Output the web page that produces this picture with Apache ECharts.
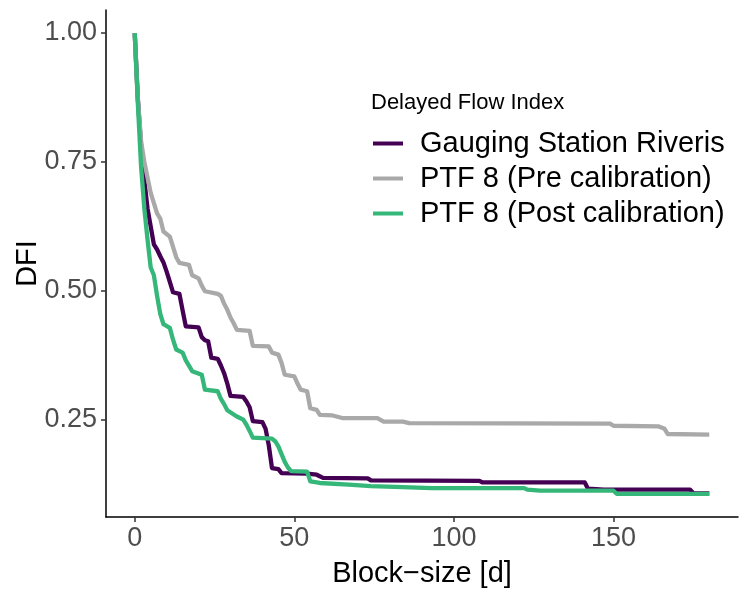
<!DOCTYPE html>
<html>
<head>
<meta charset="utf-8">
<script src="https://cdn.jsdelivr.net/npm/echarts@6/dist/echarts.min.js"></script>
<style>html,body{margin:0;padding:0;background:#fff}#c{width:750px;height:596px}</style>
</head>
<body>
<div id="c"></div>
<script>
const seriesNames = ["Gauging Station Riveris", "PTF 8 (Pre calibration)", "PTF 8 (Post calibration)"];
const seriesColors = ["#440154", "#A9A9A9", "#35B779"];
const legendTitle = "Delayed Flow Index";
const xTicks = [0, 50, 100, 150];
const yTicks = [0.25, 0.50, 0.75, 1.00];

const gauging = [[0,1.0],[1,0.87],[2,0.78],[3,0.715],[4,0.66],[5,0.625],[6,0.59],[7,0.58],[8,0.567],[9,0.555],[10,0.537],[11,0.517],[12,0.497],[14,0.494],[15,0.462],[16,0.431],[20,0.429],[21,0.41],[22,0.404],[23,0.402],[24,0.37],[26,0.368],[27,0.355],[28,0.34],[29,0.32],[30,0.296],[34,0.294],[35,0.285],[36,0.274],[37,0.247],[40,0.245],[41,0.232],[42,0.2],[43,0.156],[45,0.154],[46,0.146],[54,0.145],[57,0.143],[59,0.137],[73,0.136],[74,0.132],[108,0.131],[109,0.128],[141,0.128],[142,0.116],[147,0.114],[174,0.114],[175,0.107],[180,0.107]];

const preCal = [[0,1.0],[0.5,0.93],[1,0.87],[2,0.79],[3,0.75],[4,0.72],[5,0.69],[6,0.67],[7,0.65],[8,0.64],[9,0.615],[11,0.605],[12,0.585],[13,0.565],[14,0.554],[17,0.55],[18,0.53],[20,0.524],[21,0.51],[22,0.499],[26,0.494],[27,0.49],[28,0.475],[29,0.463],[30,0.448],[31,0.437],[32,0.424],[36,0.422],[37,0.393],[42,0.392],[43,0.38],[45,0.376],[46,0.36],[47,0.337],[50,0.334],[51,0.32],[52,0.308],[54,0.305],[55,0.272],[57,0.269],[58,0.259],[62,0.258],[65,0.253],[76,0.253],[78,0.246],[84,0.246],[86,0.243],[149,0.242],[150,0.238],[164,0.237],[166,0.232],[167,0.222],[180,0.221]];

const postCal = [[0,1.0],[1,0.86],[2,0.74],[3,0.66],[4,0.6],[5,0.545],[6,0.53],[7,0.49],[8,0.455],[9,0.435],[11,0.428],[12,0.405],[13,0.386],[15,0.38],[16,0.365],[18,0.344],[21,0.337],[22,0.308],[26,0.305],[27,0.29],[28,0.28],[29,0.268],[31,0.26],[32,0.256],[34,0.25],[35,0.24],[36,0.228],[37,0.215],[43,0.213],[44,0.208],[45,0.198],[46,0.183],[47,0.168],[48,0.157],[49,0.15],[54,0.149],[55,0.13],[58,0.127],[67,0.124],[74,0.121],[84,0.119],[93,0.117],[122,0.117],[123,0.114],[127,0.112],[150,0.112],[151,0.106],[180,0.106]];

const allData = [gauging, preCal, postCal];
const FONT = "Liberation Sans, Arial, sans-serif";

const chart = echarts.init(document.getElementById('c'), null, {renderer: 'canvas'});
chart.setOption({
  animation: false,
  backgroundColor: '#fff',
  grid: {left: 106, right: 12, top: 10, bottom: 79, containLabel: false, outerBoundsMode: 'none'},
  title: {
    text: legendTitle, left: 366, top: 87,
    textStyle: {fontFamily: FONT, fontSize: 22, fontWeight: 'normal', color: '#000'}
  },
  legend: {
    data: seriesNames, orient: 'vertical', left: 368, top: 124,
    icon: 'rect', itemWidth: 30, itemHeight: 4, itemGap: 6,
    textStyle: {fontFamily: FONT, fontSize: 29, color: '#000', padding: [0,0,0,12]}
  },
  xAxis: {
    type: 'value', min: -9, max: 189,
    name: 'Block\u2212size [d]', nameLocation: 'middle', nameGap: 42, nameMoveOverlap: false,
    nameTextStyle: {fontFamily: FONT, fontSize: 29, color: '#000'},
    axisLine: {show: true, onZero: false, lineStyle: {color: '#000', width: 1.5}},
    axisTick: {show: true, length: 5, lineStyle: {color: '#333', width: 1.5}, customValues: xTicks},
    axisLabel: {fontFamily: FONT, fontSize: 27, color: '#4D4D4D', margin: 8, customValues: xTicks},
    splitLine: {show: false}
  },
  yAxis: {
    type: 'value', min: 0.061, max: 1.0447,
    name: 'DFI', nameLocation: 'middle', nameGap: 64, nameMoveOverlap: false,
    nameTextStyle: {fontFamily: FONT, fontSize: 29, color: '#000'},
    axisLine: {show: true, onZero: false, lineStyle: {color: '#000', width: 1.5}},
    axisTick: {show: true, length: 5, lineStyle: {color: '#333', width: 1.5}, customValues: yTicks},
    axisLabel: {fontFamily: FONT, fontSize: 27, color: '#4D4D4D', margin: 9, customValues: yTicks,
      formatter: v => v.toFixed(2)},
    splitLine: {show: false}
  },
  series: allData.map((d, i) => ({
    name: seriesNames[i], type: 'line', data: d, showSymbol: false, symbol: 'none',
    color: seriesColors[i],
    lineStyle: {color: seriesColors[i], width: 4.3, join: 'round'},
    z: 2 + i
  }))
});
</script>
</body>
</html>
